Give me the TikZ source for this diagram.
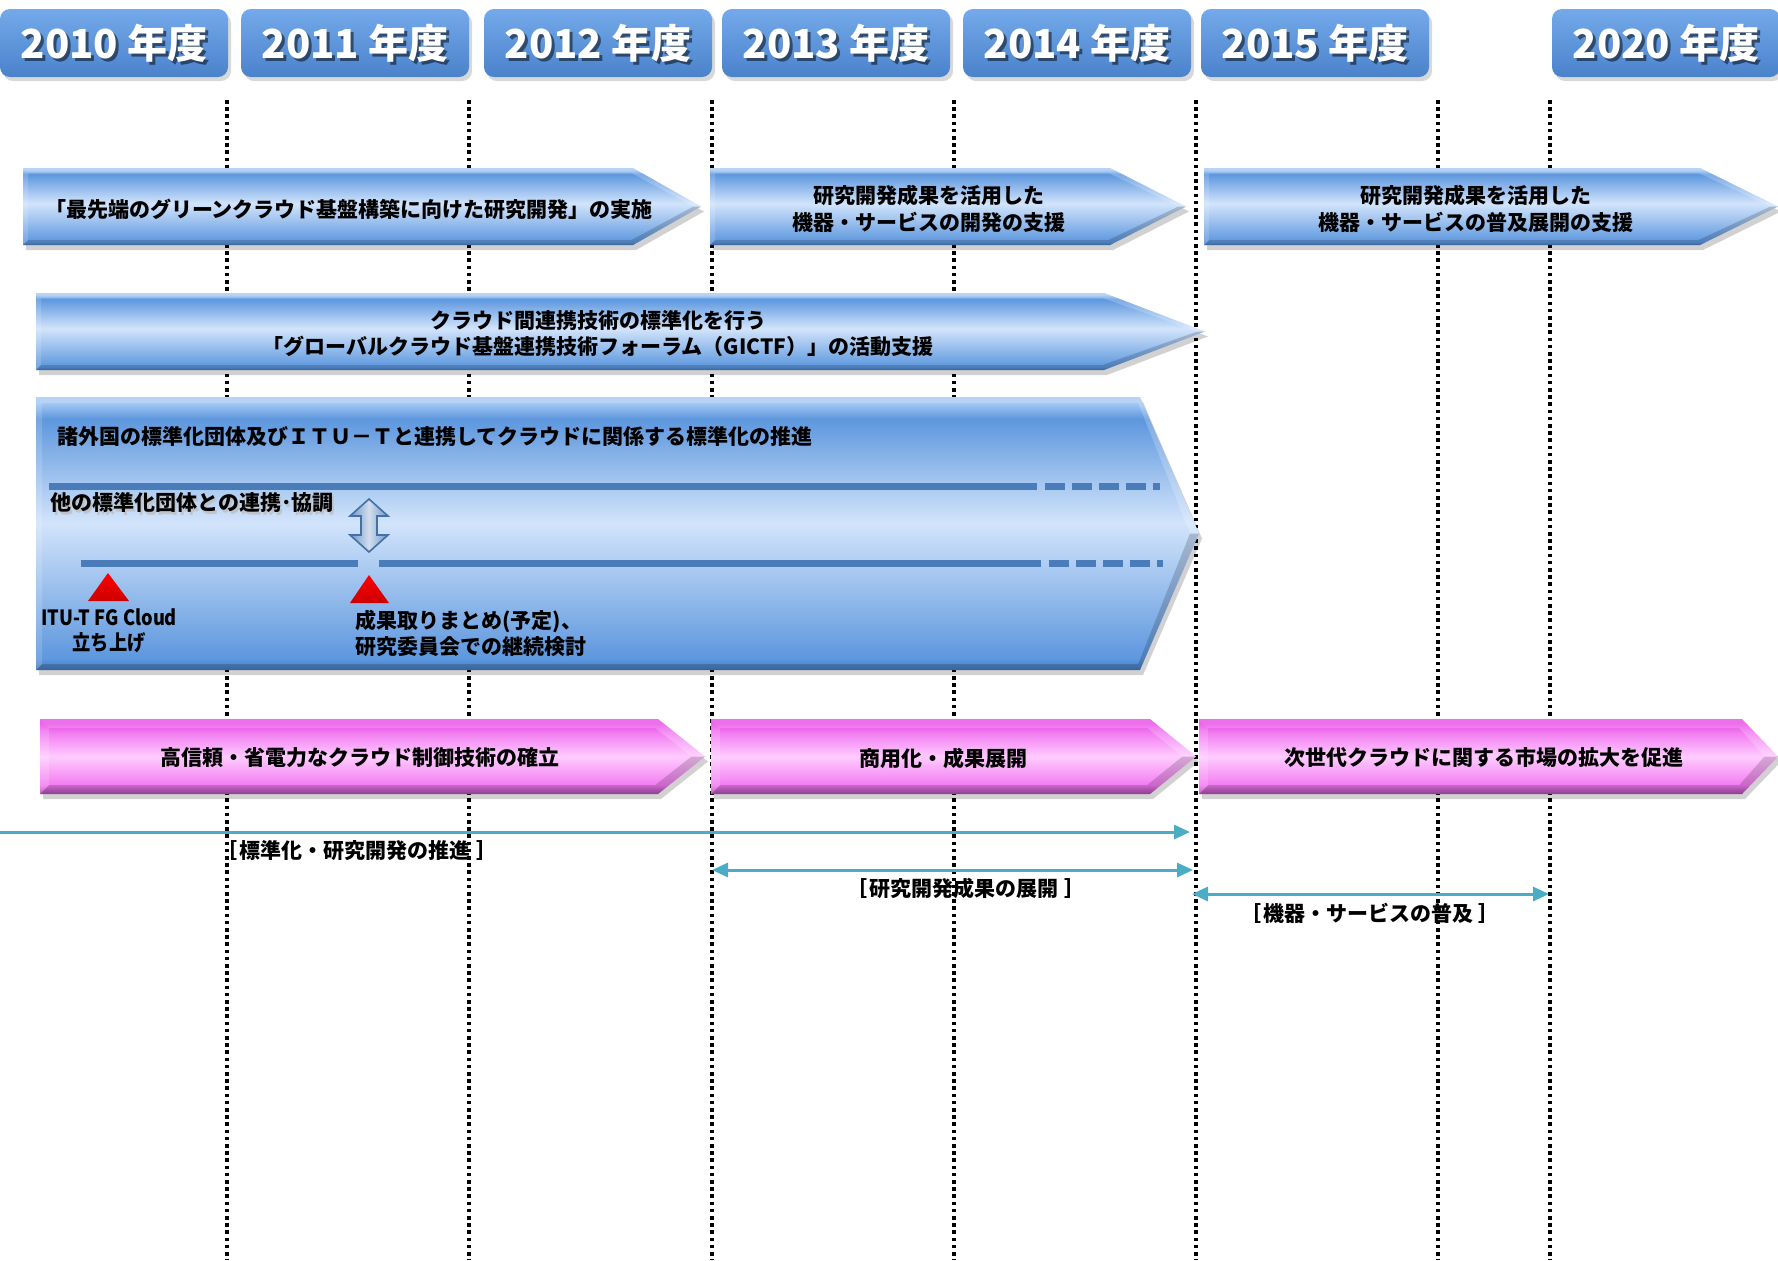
\documentclass[tikz,border=0pt]{standalone}
\usepackage{fontspec}
\setmainfont{Noto Sans CJK JP}
\newfontfamily\etroit{Noto Sans CJK JP}[FakeStretch=0.87]
\usepackage{xcolor}
\usepackage{tikz}
\usetikzlibrary{arrows.meta, positioning, shadows}

\definecolor{anneehaut}{HTML}{74AAEA}
\definecolor{anneebas}{HTML}{4A82CB}
\definecolor{bleuhaut}{HTML}{A6CAF4}
\definecolor{bleu}{HTML}{5D97DE}
\definecolor{bleuclair}{HTML}{D2E4FB}
\definecolor{bleubas}{HTML}{4677BA}
\definecolor{rosehaut}{HTML}{E84CE6}
\definecolor{rose}{HTML}{F27CF1}
\definecolor{roseclair}{HTML}{FFCCFF}
\definecolor{rosebas}{HTML}{A94AAB}
\definecolor{ligne}{HTML}{4A7CB9}
\definecolor{cyanfleche}{HTML}{4BACC6}

\pgfdeclareverticalshading{chevbleu}{100bp}{color(0bp)=(bleubas); color(25bp)=(bleubas);
  color(27bp)=(bleu); color(52bp)=(bleuclair); color(71bp)=(bleu); color(74bp)=(bleuhaut); color(100bp)=(bleuhaut)}
\pgfdeclareverticalshading{chevrose}{100bp}{color(0bp)=(rosebas); color(25bp)=(rosebas);
  color(31bp)=(rose); color(50bp)=(roseclair); color(66bp)=(rose); color(72bp)=(rosehaut); color(100bp)=(rosehaut)}

\tikzset{
  ombre/.style={fill=black, opacity=.18},
  pointille/.style={line width=1.8pt, dash pattern=on 1.8pt off 1.8pt},
  anneebox/.style={minimum width=114pt, minimum height=34pt, rounded corners=5pt,
    top color=anneehaut, bottom color=anneebas,
    drop shadow={opacity=.3, shadow xshift=1.5pt, shadow yshift=-2pt}},
  anneetexte/.style={font=\fontsize{20}{24}\selectfont\bfseries, text=white, inner sep=0pt},
  texte/.style={font=\fontsize{10.5}{13.5}\selectfont\bfseries, inner sep=0pt},
  trait/.style={ligne, line width=3.5pt},
  periode/.style={cyanfleche, line width=1.5pt},
  pointe/.tip={Triangle[length=8pt, width=7pt]}
}

% #1 ombrage, #2 gauche, #3 haut, #4 fin du corps, #5 pointe, #6 bas, #7 biseau
\newcommand{\chevron}[7]{%
  \pgfmathsetmacro{\ymil}{(#3+#6)/2}
  \fill[ombre] (#2+3,#3+5) -- (#4+3,#3+5) -- (#5+3,\ymil+5) -- (#4+3,#6+5) -- (#2+3,#6+5) -- cycle;
  \shade[shading=#1] (#2,#3) -- (#4,#3) -- (#5,\ymil) -- (#4,#6) -- (#2,#6) -- cycle;
  \fill[white, opacity=.2] (#2,#3) -- (#4,#3) -- (#5,\ymil) -- (#5-1.5*#7,\ymil)
    -- (#4-0.3*#7,#3+#7) -- (#2+#7,#3+#7) -- cycle;
  \fill[black, opacity=.17] (#2,#6) -- (#4,#6) -- (#5,\ymil) -- (#5-1.5*#7,\ymil)
    -- (#4-0.3*#7,#6-#7) -- (#2+#7,#6-#7) -- cycle;
  \fill[white, opacity=.15] (#2,#3) -- (#2+#7,#3+#7) -- (#2+#7,#6-#7) -- (#2,#6) -- cycle;
}

\begin{document}
\begin{tikzpicture}[x=0.5pt, y=-0.5pt]
  \useasboundingbox[fill=white] (0,0) rectangle (1778,1260);

  % Lignes des années
  \foreach \x in {227,469,712,954,1196,1438,1550}
    \draw[pointille] (\x,100) -- (\x,1260);

  % Années
  \foreach \x/\an in {0/2010, 241/2011, 484/2012, 722/2013, 963/2014, 1201/2015, 1552/2020} {
    \node[anneebox] (a\an) at (\x+114,43) {};
    \node[anneetexte, text=black, opacity=.5] at ([shift={(1.5pt,-1.5pt)}]a\an.center) {\an\ 年度};
    \node[anneetexte] at (a\an.center) {\an\ 年度};
  }

  % Flèches bleues
  \chevron{chevbleu}{23}{168}{633}{701}{245}{5}
  \chevron{chevbleu}{710}{168}{1110}{1186}{245}{5}
  \chevron{chevbleu}{1204}{168}{1700}{1778}{245}{5}
  \chevron{chevbleu}{36}{293}{1104}{1205}{370}{5}
  \chevron{chevbleu}{36}{397}{1140}{1199}{670}{6}

  \node[texte] (recherche) at (349,209) {「最先端のグリーンクラウド基盤構築に向けた研究開発」の実施};
  \node[texte, align=center] (appui) at (929,209) {研究開発成果を活用した\\機器・サービスの開発の支援};
  \node[texte, align=center] (diffusion) at (1476,209) {研究開発成果を活用した\\機器・サービスの普及展開の支援};
  \node[texte, align=center, font=\fontsize{10.5}{13}\selectfont\bfseries] (gictf) at (598,334)
    {クラウド間連携技術の標準化を行う\\「グローバルクラウド基盤連携技術フォーラム（GICTF）」の活動支援};

  % Normalisation
  \node[texte, anchor=west] (titre) at (57,436) {諸外国の標準化団体及びＩＴＵ－Ｔと連携してクラウドに関係する標準化の推進};
  \node[texte, anchor=west, text=black!25, opacity=.8] at (52,505) {他の標準化団体との連携･協調};
  \node[texte, anchor=west] (autres) at (50,502) {他の標準化団体との連携･協調};

  \draw[trait] (49,486) -- (1037,486);
  \draw[trait, dash pattern=on 10pt off 3.5pt] (1045,486) -- (1160,486);
  \draw[trait] (81,563) -- (358,563);
  \draw[trait] (379,563) -- (1041,563);
  \draw[trait, dash pattern=on 10pt off 3.5pt] (1049,563) -- (1163,563);

  \shade[left color=ligne!80, right color=ligne!80, middle color=white!75!ligne, draw=ligne!90!black, line width=0.8pt]
    (369,499) -- (388,516) -- (377,516) -- (377,535) -- (388,535) -- (369,552)
    -- (350,535) -- (361,535) -- (361,516) -- (350,516) -- cycle;

  \shade[top color=red, bottom color=red!80!black] (108,573) -- (129,601) -- (88,601) -- cycle;
  \shade[top color=red, bottom color=red!80!black] (369,575) -- (389,603) -- (350,603) -- cycle;

  \node[texte, align=center, font=\fontsize{10.5}{12.5}\etroit\bfseries] (itu) at (109,631) {ITU-T FG Cloud\\立ち上げ};
  \node[texte, align=left, anchor=west, font=\fontsize{10.5}{13}\selectfont\bfseries] (bilan) at (355,633)
    {成果取りまとめ(予定)、\\研究委員会での継続検討};

  % Flèches roses
  \chevron{chevrose}{40}{719}{658}{705}{794}{9}
  \chevron{chevrose}{711}{719}{1150}{1196}{794}{9}
  \chevron{chevrose}{1199}{719}{1742}{1778}{794}{9}

  \node[texte] (controle) at (360,758) {高信頼・省電力なクラウド制御技術の確立};
  \node[texte] (commerce) at (943,758) {商用化・成果展開};
  \node[texte] (marche) at (1484,758) {次世代クラウドに関する市場の拡大を促進};

  % Périodes
  \coordinate (d1) at (0,832);    \coordinate (f1) at (1190,832);
  \coordinate (d2) at (712,870);  \coordinate (f2) at (1193,870);
  \coordinate (d3) at (1192,894); \coordinate (f3) at (1549,894);

  \draw[periode, -pointe] (d1) -- (f1);
  \draw[periode, pointe-pointe] (d2) -- (f2);
  \draw[periode, pointe-pointe] (d3) -- (f3);

  \node[texte] (p1) at (357,851) {［\hspace{1pt}標準化・研究開発の推進\hspace{3pt}］};
  \node[texte] (p2) at (966,888) {［\hspace{1pt}研究開発成果の展開\hspace{3pt}］};
  \node[texte] (p3) at (1370,913) {［\hspace{1pt}機器・サービスの普及\hspace{3pt}］};
\end{tikzpicture}
\end{document}
